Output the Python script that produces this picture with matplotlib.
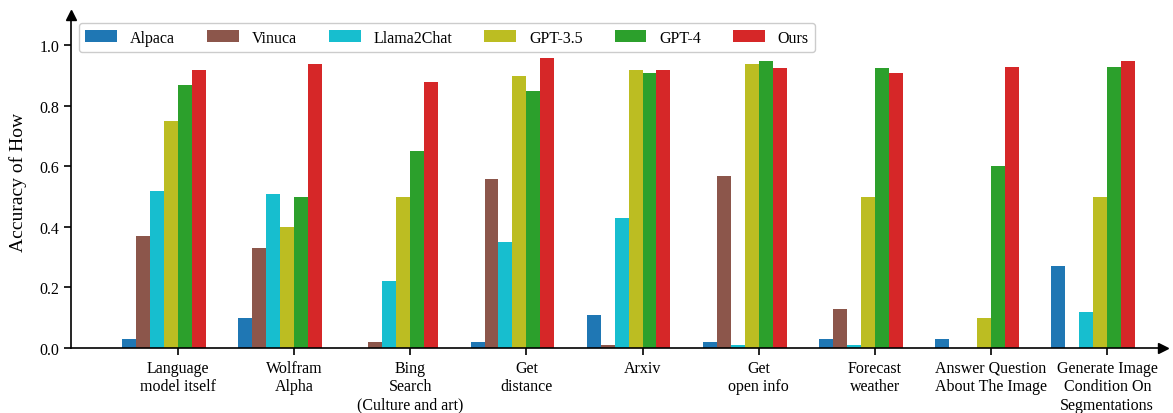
import numpy as np
import matplotlib
matplotlib.use("Agg")
import matplotlib.pyplot as plt

plt.rcParams['font.family'] = ['Liberation Serif', 'DejaVu Serif']

# Datos
tools = ["Language\nmodel itself", "Wolfram\nAlpha", "Bing\nSearch\n(Culture and art)",
         "Get\ndistance", "Arxiv", "Get\nopen info", "Forecast\nweather",
         "Answer Question\nAbout The Image", "Generate Image\nCondition On\nSegmentations"]
models = ["Alpaca", "Vinuca", "Llama2Chat", "GPT-3.5", "GPT-4", "Ours"]
colors = ["#1f77b4", "#8c564b", "#17becf", "#bcbd22", "#2ca02c", "#d62728"]

alpaca = [0.03, 0.10, 0.0, 0.02, 0.11, 0.02, 0.03, 0.03, 0.27]
vinuca = [0.37, 0.33, 0.02, 0.56, 0.01, 0.57, 0.13, 0.0, 0.0]
llama2chat = [0.52, 0.51, 0.22, 0.35, 0.43, 0.01, 0.01, 0.0, 0.12]
gpt35 = [0.75, 0.40, 0.50, 0.90, 0.92, 0.94, 0.50, 0.10, 0.50]
gpt4 = [0.87, 0.50, 0.65, 0.85, 0.91, 0.95, 0.925, 0.60, 0.93]
ours = [0.92, 0.94, 0.88, 0.96, 0.92, 0.925, 0.91, 0.93, 0.95]
scores = [alpaca, vinuca, llama2chat, gpt35, gpt4, ours]

x = np.arange(len(tools))
w = 0.12

fig = plt.figure(figsize=(11.73, 4.14), dpi=100)
ax = fig.add_axes([0.0605, 0.157, 0.931, 0.804])

for i, (name, vals, c) in enumerate(zip(models, scores, colors)):
    ax.bar(x + (i - 4) * w, vals, w, align='edge', color=c, label=name)

ax.set_xlim(-0.92, 8.48)
ax.set_ylim(0, 1.1)
ax.set_xticks(x)
ax.set_xticklabels(tools, fontsize=11.5)
ax.set_yticks([0.0, 0.2, 0.4, 0.6, 0.8, 1.0])
ax.set_yticklabels(["0.0", "0.2", "0.4", "0.6", "0.8", "1.0"], fontsize=11.5)
ax.tick_params(axis='both', length=5, width=1.2)
ax.set_ylabel("Accuracy of How", fontsize=14, labelpad=9)

ax.spines['top'].set_visible(False)
ax.spines['right'].set_visible(False)
ax.spines['left'].set_linewidth(1.2)
ax.spines['bottom'].set_linewidth(1.2)

# flechas en los ejes
ax.plot(1, 0, ">k", markersize=7, transform=ax.transAxes, clip_on=False)
ax.plot(0, 1, "^k", markersize=7, transform=ax.transAxes, clip_on=False)

ax.legend(ncol=6, loc='upper left', fontsize=11.5, handlelength=2.0,
          columnspacing=2.0, fancybox=True, edgecolor='#cccccc', framealpha=1)

plt.savefig("out.png", dpi=100)
